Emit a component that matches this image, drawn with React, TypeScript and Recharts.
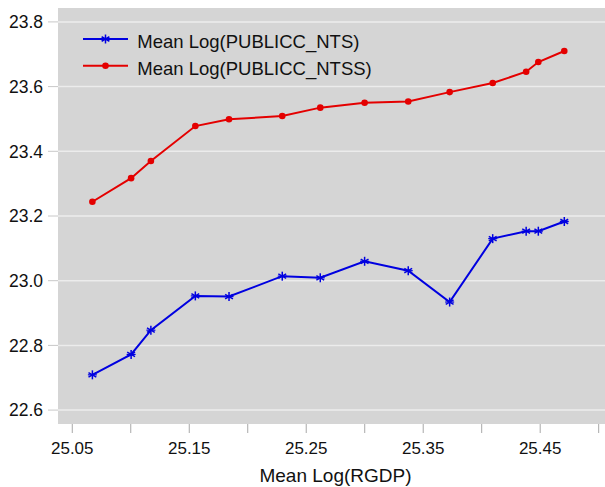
import React from 'react';
import { LineChart, Line, XAxis, YAxis, CartesianGrid, Label } from 'recharts';

const rgdp = [25.0672, 25.1003, 25.1172, 25.1552, 25.1840, 25.2295, 25.2620, 25.2999, 25.3372, 25.3726, 25.4094, 25.4380, 25.4484, 25.4706];
const nts = [22.709, 22.772, 22.847, 22.953, 22.951, 23.014, 23.009, 23.060, 23.031, 22.934, 23.130, 23.153, 23.153, 23.183];
const ntss = [23.244, 23.317, 23.370, 23.478, 23.499, 23.509, 23.535, 23.550, 23.554, 23.583, 23.611, 23.646, 23.676, 23.710];
const xTicks = [25.05, 25.1, 25.15, 25.2, 25.25, 25.3, 25.35, 25.4, 25.45, 25.5];
const xTickLabels: Record<string, string> = { '25.05': '25.05', '25.15': '25.15', '25.25': '25.25', '25.35': '25.35', '25.45': '25.45' };
const yTicks = [22.6, 22.8, 23.0, 23.2, 23.4, 23.6, 23.8];
const seriesNames = ['Mean Log(PUBLICC_NTS)', 'Mean Log(PUBLICC_NTSS)'];

const data = rgdp.map((x, i) => ({ x, nts: nts[i], ntss: ntss[i] }));

const BLUE = '#0000e0';
const RED = '#e40000';
const FONT = '"Liberation Sans", Arial, Helvetica, sans-serif';

const Star = (props: any) => {
  const { cx, cy } = props;
  if (cx == null || cy == null) return null;
  const r = 4.5;
  const lines = [0, 60, 120].map((a) => {
    const rad = (a * Math.PI) / 180 + Math.PI / 2;
    return (
      <line key={a} x1={cx - r * Math.cos(rad)} y1={cy - r * Math.sin(rad)} x2={cx + r * Math.cos(rad)} y2={cy + r * Math.sin(rad)} stroke={BLUE} strokeWidth={1.5} />
    );
  });
  return (
    <g>
      {lines}
      <line x1={cx - r} y1={cy} x2={cx + r} y2={cy} stroke={BLUE} strokeWidth={1.2} />
    </g>
  );
};

const Dot = (props: any) => {
  const { cx, cy } = props;
  if (cx == null || cy == null) return null;
  return <circle cx={cx} cy={cy} r={3.3} fill={RED} stroke="none" />;
};

export default function App() {
  return (
    <div style={{ position: 'absolute', left: 0, top: 0, width: 605, height: 487, background: '#fff', fontFamily: FONT }}>
      <LineChart width={605} height={487} data={data} margin={{ top: 8, right: 0, left: 0, bottom: 0 }}>
        <CartesianGrid vertical={false} fill="#d5d5d5" stroke="#ececec" strokeWidth={1.5} horizontalValues={yTicks} />
        <XAxis
          dataKey="x"
          type="number"
          domain={[25.0378, 25.5054]}
          ticks={xTicks}
          tickFormatter={(v: number) => xTickLabels[v.toFixed(2)] ?? ''}
          axisLine={false}
          tickSize={9}
          tickMargin={8.5}
          tickLine={{ stroke: '#a8a8a8' }}
          height={63}
          tick={{ fill: '#111', fontSize: 17, fontFamily: FONT }}
          allowDataOverflow
        >
          <Label value="Mean Log(RGDP)" position="insideBottom" offset={5.3} dx={4} style={{ fill: '#111', fontSize: 19, fontFamily: FONT }} />
        </XAxis>
        <YAxis
          type="number"
          domain={[22.557, 23.843]}
          ticks={yTicks}
          tickFormatter={(v: number) => v.toFixed(1)}
          axisLine={false}
          tickSize={10}
          tickMargin={5}
          tickLine={{ stroke: '#c8c8c8' }}
          width={58}
          tick={{ fill: '#111', fontSize: 17.5, fontFamily: FONT }}
          allowDataOverflow
        />
        <Line dataKey="nts" stroke={BLUE} strokeWidth={2} dot={<Star />} activeDot={false} isAnimationActive={false} />
        <Line dataKey="ntss" stroke={RED} strokeWidth={2} dot={<Dot />} activeDot={false} isAnimationActive={false} />
      </LineChart>
      <svg width={330} height={56} style={{ position: 'absolute', left: 80, top: 26 }}>
        <line x1={3} y1={13} x2={48} y2={13} stroke={BLUE} strokeWidth={2} />
        <Star cx={25.5} cy={13} />
        <text x={57.3} y={22.3} fontSize={18.5} fontFamily={FONT} fill="#111">{seriesNames[0]}</text>
        <line x1={3} y1={39.7} x2={48} y2={39.7} stroke={RED} strokeWidth={2} />
        <Dot cx={25.5} cy={39.7} />
        <text x={57.3} y={49} fontSize={18.5} fontFamily={FONT} fill="#111">{seriesNames[1]}</text>
      </svg>
    </div>
  );
}
